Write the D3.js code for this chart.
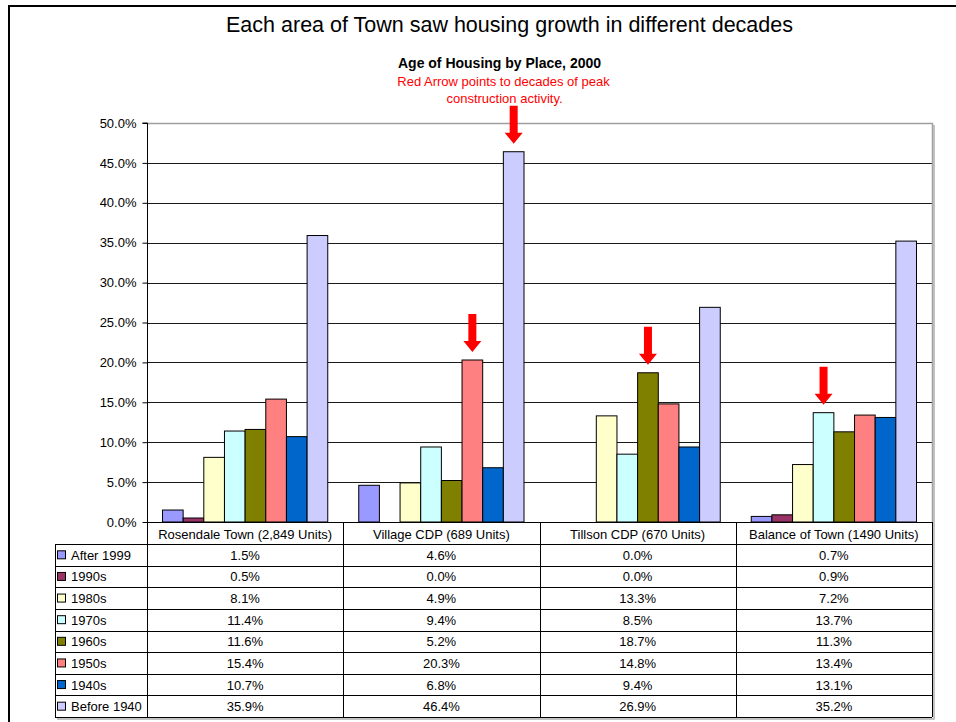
<!DOCTYPE html>
<html>
<head>
<meta charset="utf-8">
<script src="https://cdn.jsdelivr.net/npm/d3@7"></script>
<style>
  html, body { margin: 0; padding: 0; background: #fff; }
  svg { display: block; font-family: "Liberation Sans", Arial, sans-serif; }
</style>
</head>
<body>
<svg id="chart" width="956" height="722"></svg>
<script>
// Places (chart categories / table columns)
const places = [
  "Rosendale Town (2,849 Units)",
  "Village CDP (689 Units)",
  "Tillson CDP (670 Units)",
  "Balance of Town (1490 Units)"
];

// Decade-built series (legend / table rows)
const decades = ["After 1999", "1990s", "1980s", "1970s", "1960s", "1950s", "1940s", "Before 1940"];
const decadeColors = ["#9999FF", "#993366", "#FFFFCC", "#CCFFFF", "#808000", "#FF8080", "#0066CC", "#CCCCFF"];

// Share of housing units (%) per decade, one value per place
const after1999  = [1.5, 4.6, 0.0, 0.7];
const s1990s     = [0.5, 0.0, 0.0, 0.9];
const s1980s     = [8.1, 4.9, 13.3, 7.2];
const s1970s     = [11.4, 9.4, 8.5, 13.7];
const s1960s     = [11.6, 5.2, 18.7, 11.3];
const s1950s     = [15.4, 20.3, 14.8, 13.4];
const s1940s     = [10.7, 6.8, 9.4, 13.1];
const before1940 = [35.9, 46.4, 26.9, 35.2];
const seriesValues = [after1999, s1990s, s1980s, s1970s, s1960s, s1950s, s1940s, before1940];

// Y axis ticks (%)
const yTicks = [0, 5, 10, 15, 20, 25, 30, 35, 40, 45, 50];

// Peak construction decades marked with a red arrow
const peaks = [
  { place: "Village CDP (689 Units)", decade: "Before 1940" },
  { place: "Village CDP (689 Units)", decade: "1950s" },
  { place: "Tillson CDP (670 Units)", decade: "1960s" },
  { place: "Balance of Town (1490 Units)", decade: "1970s" }
];

const svg = d3.select("#chart");
const FS = 13;

// Outer chart frame
svg.append("rect")
  .attr("x", 9).attr("y", 6)
  .attr("width", 960).attr("height", 730)
  .attr("fill", "none").attr("stroke", "#000").attr("stroke-width", 2);

// Titles
svg.append("text")
  .attr("x", 509.5).attr("y", 32)
  .attr("text-anchor", "middle")
  .attr("font-size", 21.5)
  .attr("fill", "#000")
  .text("Each area of Town saw housing growth in different decades");

svg.append("text")
  .attr("x", 499.5).attr("y", 68)
  .attr("text-anchor", "middle")
  .attr("font-size", 14).attr("font-weight", "bold")
  .text("Age of Housing by Place, 2000");

svg.append("text")
  .attr("x", 503.5).attr("y", 86)
  .attr("text-anchor", "middle")
  .attr("font-size", FS).attr("fill", "#FF0000")
  .text("Red Arrow points to decades of peak");

svg.append("text")
  .attr("x", 504.5).attr("y", 102.5)
  .attr("text-anchor", "middle")
  .attr("font-size", FS).attr("fill", "#FF0000")
  .text("construction activity.");

// Plot geometry
const plotLeft = 147, plotRight = 932, plotTop = 123, plotBottom = 522;

const x0 = d3.scaleBand().domain(places).range([plotLeft, plotRight]).paddingInner(0).paddingOuter(0);
const x1 = d3.scaleBand().domain(decades).range([0, x0.bandwidth()]).paddingInner(0).paddingOuter(0.75);
const y = d3.scaleLinear().domain([0, 50]).range([plotBottom, plotTop]);
const color = d3.scaleOrdinal().domain(decades).range(decadeColors);

// Gridlines
svg.append("g")
  .selectAll("line")
  .data(yTicks.filter(t => t > 0 && t < 50))
  .join("line")
  .attr("x1", plotLeft).attr("x2", plotRight)
  .attr("y1", d => Math.round(y(d)) + 0.5).attr("y2", d => Math.round(y(d)) + 0.5)
  .attr("stroke", "#1a1a1a").attr("stroke-width", 1);

// Plot area border (top and right)
svg.append("path")
  .attr("d", `M${plotLeft},${plotTop + 0.5}H${plotRight + 0.5}V${plotBottom}`)
  .attr("fill", "none").attr("stroke", "#a0a0a0").attr("stroke-width", 1.5);

// Bars
const barData = [];
decades.forEach((dec, si) => {
  places.forEach((pl, pi) => {
    barData.push({ decade: dec, place: pl, value: seriesValues[si][pi] });
  });
});

svg.append("g")
  .selectAll("rect")
  .data(barData.filter(d => d.value > 0))
  .join("rect")
  .attr("x", d => x0(d.place) + x1(d.decade))
  .attr("y", d => y(d.value))
  .attr("width", x1.bandwidth())
  .attr("height", d => y(0) - y(d.value))
  .attr("fill", d => color(d.decade))
  .attr("stroke", "#000").attr("stroke-width", 1);

// Y axis
const yAxis = d3.axisLeft(y)
  .tickValues(yTicks)
  .tickSize(5)
  .tickPadding(6)
  .tickFormat(d => d3.format(".1f")(d) + "%");

const gy = svg.append("g")
  .attr("transform", `translate(${plotLeft + 0.5},0)`)
  .call(yAxis);
gy.select(".domain").attr("stroke", "#000").attr("d", `M-5,${plotTop}H0V${plotBottom}`);
gy.selectAll(".tick line").attr("stroke", "#000");
gy.selectAll(".tick text")
  .attr("font-family", "'Liberation Sans', Arial, sans-serif")
  .attr("font-size", FS).attr("fill", "#000");

// Baseline
svg.append("line")
  .attr("x1", plotLeft).attr("x2", plotRight)
  .attr("y1", plotBottom + 0.5).attr("y2", plotBottom + 0.5)
  .attr("stroke", "#000");

// Red arrows above peak bars
const arrowLen = 38, tipGap = 8, shaftW = 8, headW = 18, headH = 11;
svg.append("g")
  .selectAll("path")
  .data(peaks)
  .join("path")
  .attr("d", d => {
    const si = decades.indexOf(d.decade);
    const pi = places.indexOf(d.place);
    const cx = x0(d.place) + x1(d.decade) + x1.bandwidth() / 2;
    const tip = y(seriesValues[si][pi]) - tipGap;
    const top = tip - arrowLen;
    const hb = tip - headH;
    return `M${cx - shaftW / 2},${top}H${cx + shaftW / 2}V${hb}H${cx + headW / 2}L${cx},${tip}L${cx - headW / 2},${hb}H${cx - shaftW / 2}Z`;
  })
  .attr("fill", "#FF0000");

// Data table
const tableLeft = 55;
const headerBottom = 544;
const rowH = (717 - headerBottom) / decades.length;
const tbl = svg.append("g");

// Category names in header row
tbl.selectAll("text.cat")
  .data(places)
  .join("text")
  .attr("class", "cat")
  .attr("x", d => x0(d) + x0.bandwidth() / 2)
  .attr("y", plotBottom + 16.5)
  .attr("text-anchor", "middle")
  .attr("font-size", FS)
  .text(d => d);

// Horizontal rules
const rowEdges = d3.range(decades.length + 1).map(i => headerBottom + i * rowH);
tbl.selectAll("line.h")
  .data(rowEdges)
  .join("line")
  .attr("class", "h")
  .attr("x1", tableLeft).attr("x2", plotRight)
  .attr("y1", d => Math.round(d) + 0.5).attr("y2", d => Math.round(d) + 0.5)
  .attr("stroke", "#000");

// Vertical rules
const colEdges = places.map(p => x0(p)).concat([plotRight]);
tbl.selectAll("line.v")
  .data(colEdges)
  .join("line")
  .attr("class", "v")
  .attr("x1", d => Math.round(d) + 0.5).attr("x2", d => Math.round(d) + 0.5)
  .attr("y1", plotBottom).attr("y2", rowEdges[rowEdges.length - 1])
  .attr("stroke", "#000");
tbl.append("line")
  .attr("x1", tableLeft + 0.5).attr("x2", tableLeft + 0.5)
  .attr("y1", headerBottom).attr("y2", rowEdges[rowEdges.length - 1])
  .attr("stroke", "#000");

// Soft shadow along right and bottom edges
tbl.append("path")
  .attr("d", `M${plotRight + 2},${plotTop + 2}V${rowEdges[rowEdges.length - 1] + 2}H${tableLeft + 2}`)
  .attr("fill", "none").attr("stroke", "#b0b0b0").attr("stroke-width", 1.5);

// Legend keys and labels
const rows = tbl.selectAll("g.row")
  .data(decades)
  .join("g")
  .attr("class", "row")
  .attr("transform", (d, i) => `translate(0,${headerBottom + i * rowH})`);

rows.append("rect")
  .attr("x", 57.5).attr("y", rowH / 2 - 4)
  .attr("width", 8).attr("height", 8)
  .attr("fill", d => color(d))
  .attr("stroke", "#000").attr("stroke-width", 1);

rows.append("text")
  .attr("x", 71).attr("y", rowH / 2 + 5)
  .attr("font-size", FS)
  .text(d => d);

// Values
rows.each(function (dec, si) {
  d3.select(this).selectAll("text.val")
    .data(places.map((p, pi) => ({ place: p, value: seriesValues[si][pi] })))
    .join("text")
    .attr("class", "val")
    .attr("x", d => x0(d.place) + x0.bandwidth() / 2)
    .attr("y", rowH / 2 + 5)
    .attr("text-anchor", "middle")
    .attr("font-size", FS)
    .text(d => d3.format(".1f")(d.value) + "%");
});
</script>
</body>
</html>
